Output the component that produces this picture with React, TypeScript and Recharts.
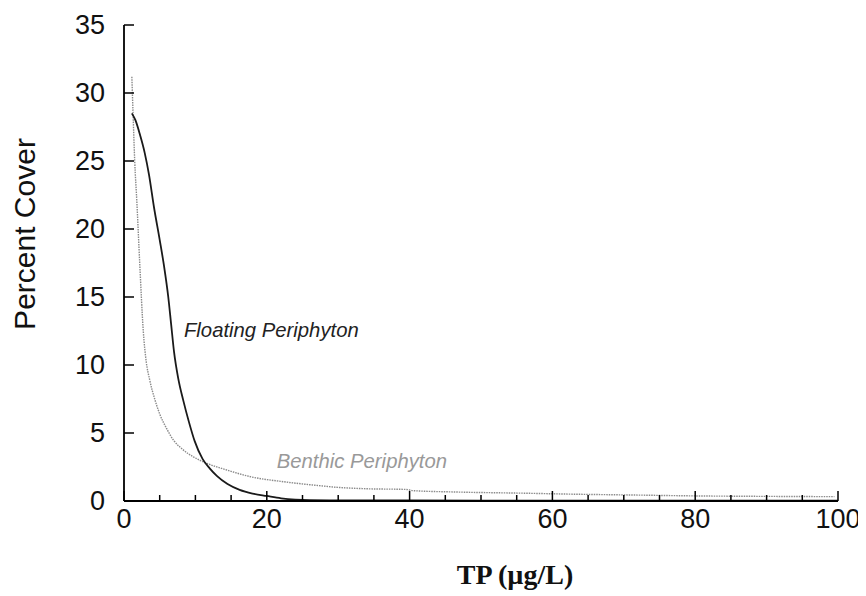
import React from "react";
import { LineChart, Line, XAxis, YAxis, ReferenceDot } from "recharts";

// TP (µg/L) vs percent cover
const floatingX = [1.1, 1.6, 2.2, 2.9, 3.5, 4.2, 5.0, 5.6, 6.2, 6.6, 7.0, 7.6, 8.3, 9.1, 9.9, 11.0, 12.0, 13.0, 14.5, 16.2, 18.0, 20.0, 22.0, 24.0, 26.0, 30.0, 40.0, 60.0, 100.0];
const floatingY = [28.5, 28.0, 27.0, 25.6, 24.0, 21.6, 19.2, 17.3, 15.0, 13.0, 11.0, 9.0, 7.4, 5.8, 4.4, 3.1, 2.4, 1.85, 1.25, 0.82, 0.55, 0.37, 0.2, 0.1, 0.06, 0.05, 0.04, 0.03, 0.02];

const benthicX = [1.1, 1.3, 1.5, 1.8, 2.2, 2.7, 3.1, 3.6, 4.3, 5.0, 6.0, 6.9, 8.2, 9.7, 11.6, 14.4, 17.6, 22.3, 26.0, 30.0, 34.0, 39.5, 40.5, 46.6, 56.4, 63.0, 71.3, 80.7, 90.0, 99.5];
const benthicY = [31.2, 28.0, 25.0, 22.0, 17.5, 12.5, 10.3, 8.9, 7.5, 6.4, 5.3, 4.5, 3.8, 3.25, 2.77, 2.28, 1.8, 1.42, 1.2, 1.0, 0.9, 0.85, 0.76, 0.66, 0.57, 0.5, 0.44, 0.37, 0.34, 0.32];

const xTicks = [0, 5, 10, 15, 20, 25, 30, 35, 40, 45, 50, 55, 60, 65, 70, 75, 80, 85, 90, 95, 100];
const xLabelTicks = [0, 20, 40, 60, 80, 100];
const yTicks = [0, 5, 10, 15, 20, 25, 30, 35];

const floating = floatingX.map((x, i) => ({ x, y: floatingY[i] }));
const benthic = benthicX.map((x, i) => ({ x, y: benthicY[i] }));

const SANS = "'Liberation Sans', Arial, sans-serif";
const SERIF = "'Liberation Serif', 'Times New Roman', serif";
const AXIS = { stroke: "#000", strokeWidth: 1.8 };

const BottomTick = (props: any) => {
  const { x, y, payload } = props;
  const major = xLabelTicks.includes(payload.value);
  return (
    <g>
      <line x1={x} x2={x} y1={y} y2={y - (major ? 10 : 6)} stroke="#000" strokeWidth={1.5} />
      {major && (
        <text x={x} y={y + 27} textAnchor="middle" fontSize={27} fontFamily={SANS} fill="#111">
          {payload.value}
        </text>
      )}
    </g>
  );
};

const TopTick = (props: any) => {
  const { x, y, payload } = props;
  const major = xLabelTicks.includes(payload.value);
  return <line x1={x} x2={x} y1={y} y2={y + (major ? 10 : 6)} stroke="#000" strokeWidth={1.5} />;
};

const LeftTick = (props: any) => {
  const { x, y, payload } = props;
  return (
    <g>
      <line x1={x} x2={x + 10} y1={y} y2={y} stroke="#000" strokeWidth={1.5} />
      <text x={x - 19} y={y} dy="0.35em" textAnchor="end" fontSize={27} fontFamily={SANS} fill="#111">
        {payload.value}
      </text>
    </g>
  );
};

const RightTick = (props: any) => {
  const { x, y } = props;
  return <line x1={x} x2={x - 10} y1={y} y2={y} stroke="#000" strokeWidth={1.5} />;
};

const YTitle = () => (
  <text
    x={16}
    y={226}
    transform="rotate(-90 16 226)"
    textAnchor="middle"
    dominantBaseline="central"
    fontSize={30}
    fontFamily={SANS}
    fill="#111"
  >
    Percent Cover
  </text>
);

const XTitle = () => (
  <text x={507} y={566} textAnchor="middle" dominantBaseline="central" fontSize={28} fontWeight="bold" fontFamily={SERIF} fill="#111">
    TP (µg/L)
  </text>
);

const seriesLabel = (text: string, color: string) => (props: any) => {
  const vb = props.viewBox || {};
  return (
    <text x={vb.x} y={vb.y} fontSize={20.3} fontStyle="italic" fontFamily={SANS} fill={color}>
      {text}
    </text>
  );
};

export default function App() {
  return (
    <LineChart width={858} height={588} margin={{ top: 17, right: 28, left: 0, bottom: 0 }}>
      <XAxis
        xAxisId="b"
        dataKey="x"
        type="number"
        domain={[0, 100]}
        ticks={xTicks}
        interval={0}
        tickSize={0}
        tickMargin={0}
        tickLine={false}
        tick={<BottomTick />}
        axisLine={AXIS}
        height={95}
        allowDataOverflow
        label={<XTitle />}
      />
      <XAxis
        xAxisId="t"
        orientation="top"
        dataKey="x"
        type="number"
        domain={[0, 100]}
        ticks={xTicks}
        interval={0}
        tickSize={0}
        tickMargin={0}
        tickLine={false}
        tick={<TopTick />}
        axisLine={AXIS}
        height={0}
        allowDataOverflow
      />
      <YAxis
        yAxisId="l"
        type="number"
        domain={[0, 35]}
        ticks={yTicks}
        interval={0}
        tickSize={0}
        tickMargin={0}
        tickLine={false}
        tick={<LeftTick />}
        axisLine={AXIS}
        width={116}
        allowDataOverflow
        label={<YTitle />}
      />
      <YAxis
        yAxisId="r"
        orientation="right"
        type="number"
        domain={[0, 35]}
        ticks={yTicks}
        interval={0}
        tickSize={0}
        tickMargin={0}
        tickLine={false}
        tick={<RightTick />}
        axisLine={AXIS}
        width={0}
        allowDataOverflow
      />
      <Line
        xAxisId="b"
        yAxisId="l"
        data={benthic}
        dataKey="y"
        type="monotone"
        stroke="#8a8a8a"
        strokeWidth={1.4}
        strokeDasharray="1.5 1"
        dot={false}
        isAnimationActive={false}
      />
      <Line
        xAxisId="b"
        yAxisId="l"
        data={floating}
        dataKey="y"
        type="monotone"
        stroke="#1a1a1a"
        strokeWidth={1.8}
        dot={false}
        isAnimationActive={false}
      />
      <ReferenceDot
        xAxisId="b"
        yAxisId="l"
        x={8.4}
        y={12.06}
        r={0}
        fill="none"
        stroke="none"
        label={seriesLabel("Floating Periphyton", "#222")}
      />
      <ReferenceDot
        xAxisId="b"
        yAxisId="l"
        x={21.4}
        y={2.43}
        r={0}
        fill="none"
        stroke="none"
        label={seriesLabel("Benthic Periphyton", "#999")}
      />
    </LineChart>
  );
}
